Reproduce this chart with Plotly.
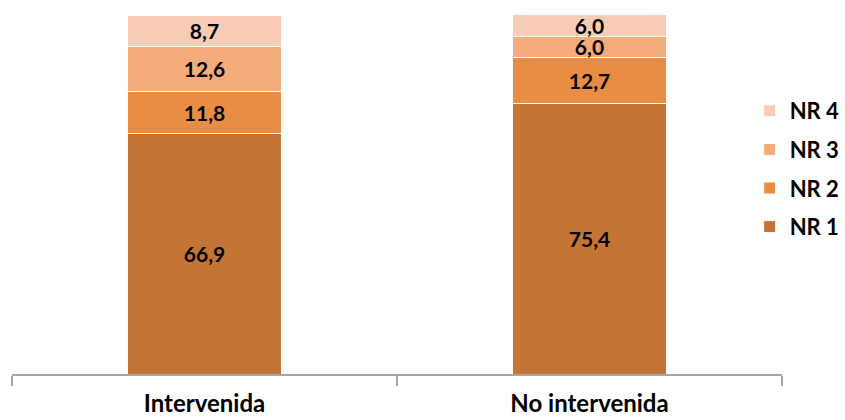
import plotly.graph_objects as go

categories = ["Intervenida", "No intervenida"]
series_names = ["NR 1", "NR 2", "NR 3", "NR 4"]
nr1 = [66.9, 75.4]
nr2 = [11.8, 12.7]
nr3 = [12.6, 6.0]
nr4 = [8.7, 6.0]
colors = ["#C47535", "#E98D44", "#F6AB7B", "#F9CCB6"]

FONT = "Lato"
fig = go.Figure()
for i, (name, vals, col) in enumerate(zip(series_names, [nr1, nr2, nr3, nr4], colors)):
    fig.add_trace(go.Bar(
        x=categories, y=vals, name=name, legendgroup=name,
        legendrank=10 - i,
        marker=dict(color=col, line=dict(color="white", width=1)),
        width=0.4,
        texttemplate="%{y:.1f}", textposition="inside", insidetextanchor="middle",
        textfont=dict(family=FONT, size=21, color="black", weight="bold"),
        hoverinfo="skip",
    ))

fig.update_layout(
    barmode="stack",
    separators=",.",
    width=845, height=420,
    margin=dict(l=12, r=63, t=15, b=46, autoexpand=False),
    paper_bgcolor="white", plot_bgcolor="white",
    uniformtext=dict(minsize=21, mode="show"),
    showlegend=True,
    legend=dict(
        x=0.958, xanchor="left", y=0.571, yanchor="middle",
        traceorder="grouped", tracegroupgap=7,
        font=dict(family=FONT, size=22, color="black", weight="bold"),
        itemwidth=30, bgcolor="rgba(0,0,0,0)",
    ),
    xaxis=dict(
        type="category", showline=True, linecolor="#A6A6A6", linewidth=1.5,
        ticks="outside", tickson="boundaries", ticklen=10, tickcolor="#A6A6A6", tickwidth=1.5,
        tickfont=dict(family=FONT, size=24, color="black", weight="bold"),
        ticklabelstandoff=7, range=[-0.5, 1.5], showgrid=False,
    ),
    yaxis=dict(range=[0, 100], visible=False, showgrid=False),
)

fig.write_html("out.html")
